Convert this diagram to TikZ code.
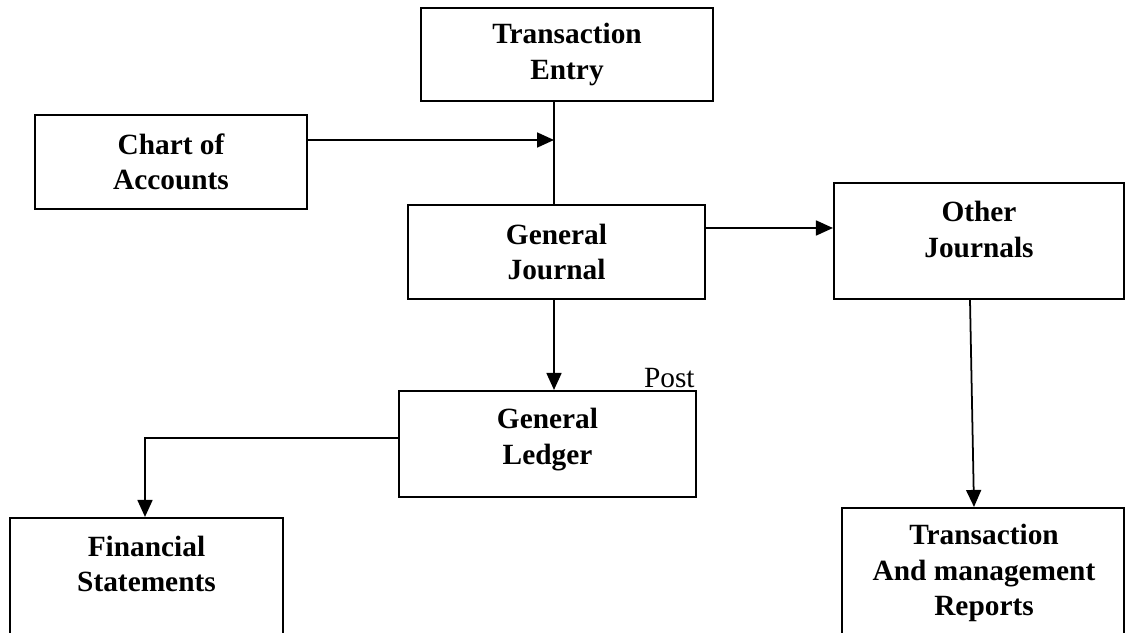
\documentclass[tikz,border=0pt]{standalone}
\usepackage{fontspec}
\setmainfont{Liberation Serif}
\usetikzlibrary{arrows.meta}

\begin{document}
\begin{tikzpicture}[
    box/.style={draw, line width=1.2pt, inner sep=0pt, align=center, font=\fontsize{16.7}{20}\selectfont\bfseries},
    lbl/.style={align=center, inner sep=0pt, font=\fontsize{16.7}{20}\selectfont\bfseries},
    arr/.style={line width=1pt, -{Triangle[length=0.34cm, width=0.3cm]}},
    link/.style={line width=1pt}
]

    % Fix the size of the picture and cut off the boxes at the bottom edge
    \useasboundingbox (0,0) rectangle (22.52,12.64);
    \clip (0,0) rectangle (22.52,12.64);

    % Top row: entry and chart of accounts
    \node[box, minimum width=5.84cm, minimum height=1.86cm] (trans) at (11.34,11.55) {Transaction\\Entry};
    \node[box, minimum width=5.44cm, minimum height=1.88cm] (chart) at (3.42,9.40) {Chart of\\Accounts};

    % Middle row: the two journals
    \node[box, minimum width=5.94cm, minimum height=1.88cm] (gj) at (11.13,7.60) {General\\Journal};
    \node[box, minimum width=5.80cm, minimum height=2.32cm] (oj) at (19.58,7.82) {};
    \node[lbl] (ojtext) at (19.58,8.05) {Other\\Journals};

    % Ledger, with the label above its top right corner
    \node[box, minimum width=5.94cm, minimum height=2.12cm] (gl) at (10.95,3.76) {};
    \node[lbl] (gltext) at (10.95,3.85) {General\\Ledger};
    \node[anchor=base east, inner sep=0pt, font=\fontsize{16.7}{20}\selectfont] (post) at (13.90,4.90) {Post};

    % Bottom row: the outputs (they run past the lower edge)
    \node[box, minimum width=5.46cm, minimum height=2.78cm] (fs) at (2.93,0.89) {};
    \node[lbl] (fstext) at (2.93,1.36) {Financial\\Statements};
    \node[box, minimum width=5.64cm, minimum height=2.98cm] (rep) at (19.66,0.99) {};
    \node[lbl] (reptext) at (19.68,1.18) {Transaction\\And management\\Reports};

    % Connectors
    \coordinate (jn) at (11.08,9.84);
    \draw[arr] (chart.east |- jn) -- (jn);
    \draw[link] (trans.south -| jn) -- (gj.north -| jn);

    \coordinate (ojin) at (16.68,8.08);
    \draw[arr] (gj.east |- ojin) -- (oj.west |- ojin);
    \draw[arr] (gj.south -| jn) -- (gl.north -| jn);

    \coordinate (fsturn) at (2.90,3.88);
    \draw[arr] (gl.west |- fsturn) -- (fsturn) -- (fs.north -| fsturn);

    \draw[arr] ([xshift=-0.18cm]oj.south) -- ([xshift=-0.18cm]rep.north);

\end{tikzpicture}
\end{document}
